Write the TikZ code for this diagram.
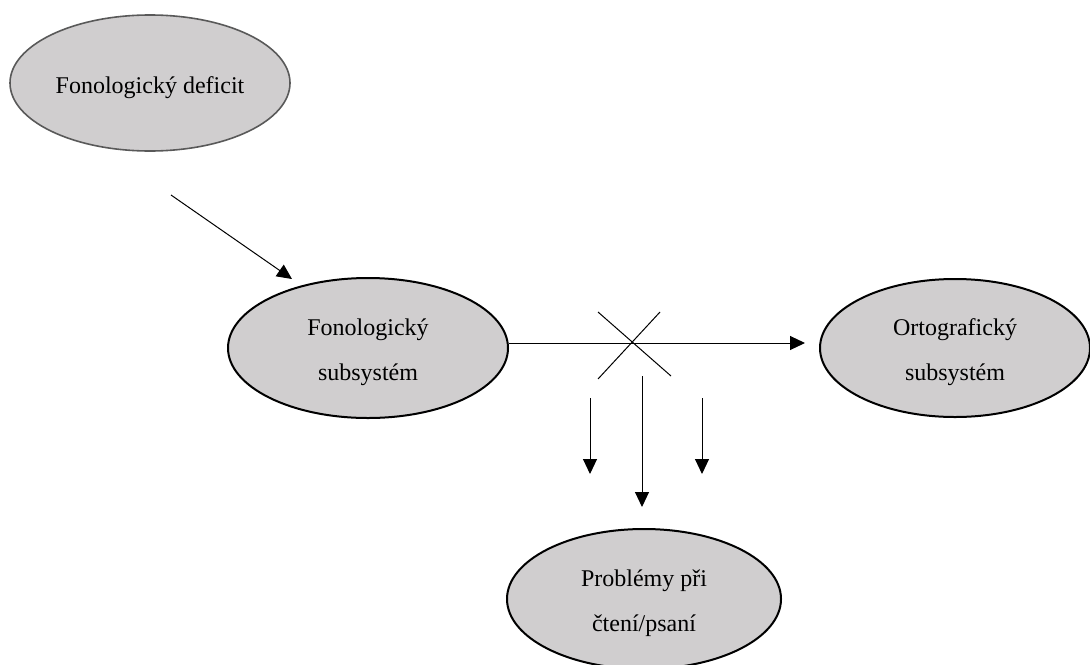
\documentclass[tikz,border=0pt]{standalone}
\usepackage{fontspec}
\setmainfont{Liberation Serif}
\usepackage{tikz}
\usetikzlibrary{shapes,shapes.geometric}
\usetikzlibrary{calc,arrows.meta,positioning}
\definecolor{ovalgray}{RGB}{208,206,207}
\newcommand{\lowtext}{\rule{0pt}{13pt}}
\tikzset{
  oval/.style={ellipse, draw=black, line width=1pt, fill=ovalgray, inner sep=0pt, align=center, font=\fontsize{12}{22.5}\selectfont},
  oval_s/.style={oval, draw=black!65, line width=0.8pt},
  thin/.style={line width=0.5pt},
  arr/.style={thin, -{Triangle[length=7.5pt,width=7pt]}}
}

\begin{document}
\begin{tikzpicture}[x=0.5pt,y=-0.5pt]
    \useasboundingbox (0,0) rectangle (1090,664);
    \node (D) [oval_s,minimum width=140pt,minimum height=68pt] at (150,83) {\lowtext Fonologický deficit};
    \node (F) [oval,minimum width=140pt,minimum height=70pt] at (368,348) {\lowtext Fonologický\\subsystém};
    \node (O) [oval,minimum width=135pt,minimum height=69pt] at (955,348) {\lowtext Ortografický\\subsystém};
    \node (P) [oval,minimum width=137pt,minimum height=70pt] at (644,599) {\lowtext Problémy při\\čtení/psaní};
    \coordinate (a1) at (171,195);
    \coordinate (a2) at (292,279);
    \coordinate (h) at (805,343);
    \coordinate (X) at (633,343);
    \coordinate (L1) at (590,398);
    \coordinate (L2) at (590,474);
    \coordinate (R1) at (702,398);
    \coordinate (R2) at (702,474);
    \coordinate (M1) at (642,376);
    \coordinate (M2) at (642,507);
    \path (a1) edge [arr] (a2);
    \path (F.east |- h) edge [arr] (h);
    % the crossed-out link
    \draw [thin] ($(X)+(-35,-31)$) -- ($(X)+(38,33)$);
    \draw [thin] ($(X)+(27,-31)$) -- ($(X)+(-35,36)$);
    \path (L1) edge [arr] (L2);
    \path (R1) edge [arr] (R2);
    \path (M1) edge [arr] (M2);
\end{tikzpicture}
\end{document}
